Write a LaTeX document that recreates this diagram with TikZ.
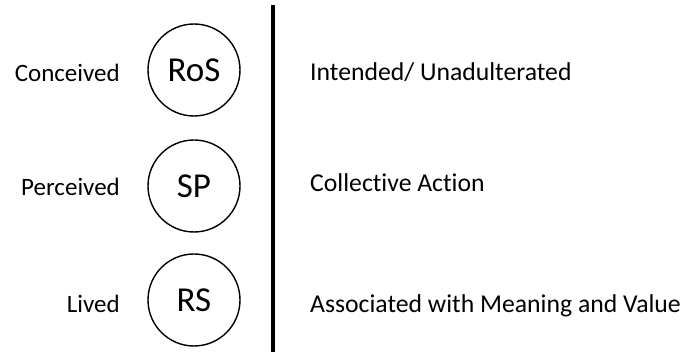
\documentclass[tikz,border=0pt]{standalone}
\usepackage{fontspec}
\setmainfont{Carlito}[Ligatures={NoCommon,NoRare}]
\begin{document}
\begin{tikzpicture}[x=1pt,y=-1pt,
  level/.style={circle,draw,line width=1.4pt,minimum size=92pt,inner sep=0pt,font=\fontsize{35}{37}\selectfont},
  side/.style={anchor=base east,font=\fontsize{25}{28}\selectfont,inner sep=0pt},
  desc/.style={anchor=base west,font=\fontsize{25.7}{28}\selectfont,inner sep=0pt}]
  \useasboundingbox (0,0) rectangle (681,352);
  % the three spaces
  \node[level] (ros) at (194,70) {RoS};
  \node[level] (sp)  at (194,186) {SP};
  \node[level] (rs)  at (194,300) {RS};
  % left-hand labels
  \node[side] (con) at (120,82) {Conceived};
  \node[side] (per) at (120,196) {Perceived};
  \node[side] (liv) at (120,313) {Lived};
  % divider
  \coordinate (top) at (273,5);
  \coordinate (bot) at (273,352);
  \draw[line width=3.2pt] (top) -- (bot);
  % right-hand descriptions
  \node[desc] (d1) at (310,81) {Intended/ Unadulterated};
  \node[desc] (d2) at (310,192) {Collective Action};
  \node[desc] (d3) at (310,313) {Associated with Meaning and Value};
\end{tikzpicture}
\end{document}
